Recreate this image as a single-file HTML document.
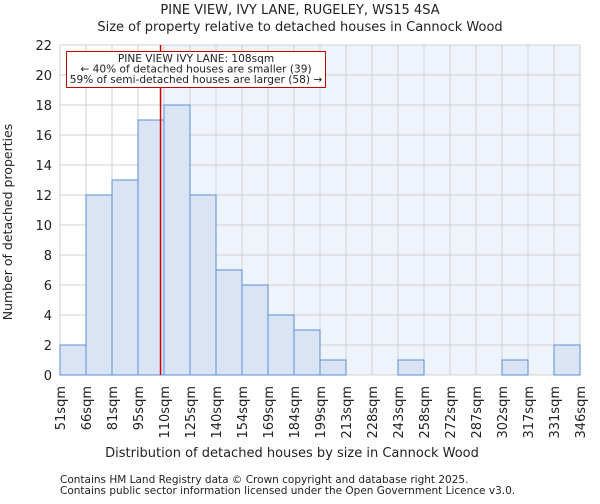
<!DOCTYPE html>
<html><head><meta charset="utf-8"><style>
body{margin:0;background:#fff;font-family:"DejaVu Sans","Liberation Sans",sans-serif;}
svg text{font-family:"DejaVu Sans","Liberation Sans",sans-serif;fill:#222;}
</style></head><body>
<svg id="c" width="600" height="500"></svg>
<script>
const ticks=["51sqm","66sqm","81sqm","95sqm","110sqm","125sqm","140sqm","154sqm","169sqm","184sqm","199sqm","213sqm","228sqm","243sqm","258sqm","272sqm","287sqm","302sqm","317sqm","331sqm","346sqm"];
const counts=[2,12,13,17,18,12,7,6,4,3,1,0,0,1,0,0,0,1,0,2];
const yTicks=[0,2,4,6,8,10,12,14,16,18,20,22];
const propertyBinPos=3+13/15;
const L=60,R=580,T=45,B=375,yMax=22;
const bw=(R-L)/counts.length;
const x=i=>L+i*bw, y=v=>B-(v/yMax)*(B-T);
const s=document.getElementById('c');const NS='http://www.w3.org/2000/svg';
function mk(t,a,txt){const e=document.createElementNS(NS,t);for(const k in a)e.setAttribute(k,a[k]);if(txt!==undefined)e.textContent=txt;s.appendChild(e);return e;}
const px=x(propertyBinPos);
let e=mk('rect',{x:L,y:T,width:R-L,height:B-T,fill:'#fff'});


e=mk('rect',{x:px,y:T,width:R-px,height:B-T,fill:'#eef3fc'});


yTicks.forEach(v=>{const g=mk('line',{x1:L,x2:R,y1:y(v),y2:y(v),stroke:'#d0d0d0','stroke-width':1});


const t=mk('text',{x:L-8,y:y(v)+5,'text-anchor':'end','font-size':13},v);

});
ticks.forEach((lb,i)=>{const g=mk('line',{x1:x(i),x2:x(i),y1:T,y2:B,stroke:'#d0d0d0','stroke-width':1});


const t=mk('text',{x:0,y:0,'text-anchor':'end','font-size':13,transform:`translate(${x(i)+5},386) rotate(-90)`},lb);

});
counts.forEach((v,i)=>{if(v<=0)return;const r=mk('rect',{x:x(i),y:y(v),width:bw,height:B-y(v),fill:'#dae4f4',stroke:'#5b8fd9','stroke-width':1});

});
e=mk('line',{x1:px,x2:px,y1:T,y2:B,stroke:'#d00000','stroke-width':1.5});


e=mk('rect',{x:66.5,y:51.5,width:259,height:36,fill:'#fff',stroke:'#c00000','stroke-width':1});


[["PINE VIEW IVY LANE: 108sqm",62],["← 40% of detached houses are smaller (39)",72.5],["59% of semi-detached houses are larger (58) →",83]].forEach(([t,yy])=>{const a=mk('text',{x:196,y:yy,'text-anchor':'middle','font-size':10.6},t);

});
e=mk('text',{x:300,y:14,'text-anchor':'middle','font-size':13},'PINE VIEW, IVY LANE, RUGELEY, WS15 4SA');


e=mk('text',{x:300,y:31,'text-anchor':'middle','font-size':13},'Size of property relative to detached houses in Cannock Wood');


e=mk('text',{x:0,y:0,'text-anchor':'middle','font-size':12.5,transform:'translate(12,222) rotate(-90)'},'Number of detached properties');


e=mk('text',{x:292,y:457,'text-anchor':'middle','font-size':13},'Distribution of detached houses by size in Cannock Wood');


e=mk('text',{x:60,y:483,'font-size':10.5,fill:'#444'},'Contains HM Land Registry data © Crown copyright and database right 2025.');


e=mk('text',{x:60,y:494,'font-size':10.5,fill:'#444'},'Contains public sector information licensed under the Open Government Licence v3.0.');


</script>
</body></html>
